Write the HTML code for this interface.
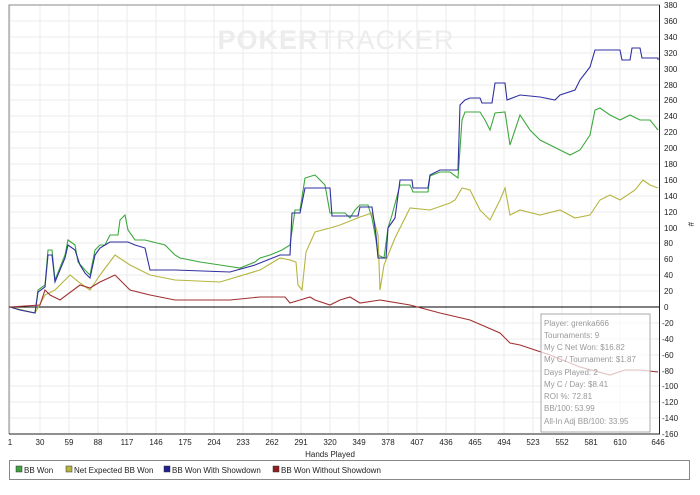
<!DOCTYPE html><html><head><style>body{margin:0;background:#fff;font-family:"Liberation Sans",sans-serif}</style></head><body>
<svg width="700" height="490" xmlns="http://www.w3.org/2000/svg" font-family="Liberation Sans, sans-serif">
<rect width="700" height="490" fill="#fff"/>
<g stroke="#ebebeb" stroke-width="1">
<path d="M10 5V434M40 5V434M69 5V434M98 5V434M127 5V434M156 5V434M185 5V434M214 5V434M243 5V434M272 5V434M301 5V434M330 5V434M359 5V434M388 5V434M417 5V434M446 5V434M475 5V434M504 5V434M533 5V434M562 5V434M591 5V434M620 5V434"/>
<path d="M9 21H660M9 37H660M9 53H660M9 69H660M9 85H660M9 100H660M9 116H660M9 132H660M9 148H660M9 164H660M9 180H660M9 196H660M9 212H660M9 228H660M9 243H660M9 259H660M9 275H660M9 291H660M9 323H660M9 339H660M9 355H660M9 371H660M9 386H660M9 402H660M9 418H660"/>
</g>
<text x="336" y="49" font-size="27" font-weight="bold" fill="#ececec" text-anchor="middle" letter-spacing="1">POKER<tspan font-weight="normal">TRACKER</tspan></text>
<path d="M9 434V5H660" fill="none" stroke="#888" stroke-width="1"/>
<path d="M9 307H660" stroke="#000" stroke-width="1"/>
<path d="M9 434H660M659.5 5V434" stroke="#222" stroke-width="1"/>
<g fill="none" stroke-width="1.1">
<polyline stroke="#3ca83c" points="10,307 20,310 35,313 38,290 45,285 48,250 52,250 55,280 65,255 68,240 75,245 78,262 85,270 90,275 95,250 100,245 105,245 110,235 118,235 120,220 125,215 128,230 135,240 145,240 165,245 175,255 180,258 200,262 220,265 240,268 255,262 260,258 270,255 282,250 290,245 295,210 300,210 305,178 315,175 325,185 330,213 345,213 350,218 355,210 360,205 368,205 372,218 376,240 378,255 384,258 388,228 392,215 400,185 410,185 413,192 428,192 430,176 440,172 450,172 458,178 462,120 465,112 480,112 485,120 490,130 495,113 505,112 510,145 520,115 530,130 540,140 550,145 560,150 570,155 580,150 590,135 595,110 600,108 610,115 620,120 630,115 640,120 650,120 658,130"/>
<polyline stroke="#b5b540" points="10,307 35,313 45,295 55,290 70,275 80,283 90,290 100,275 115,255 130,265 150,275 175,280 220,282 260,270 280,258 290,260 296,262 298,285 302,290 306,252 315,232 330,228 340,225 360,217 372,213 378,235 380,290 384,265 395,238 410,208 430,210 450,203 455,200 462,188 470,190 480,210 490,220 500,200 505,188 510,215 520,210 540,215 560,210 575,218 590,215 600,200 610,195 620,200 635,190 643,180 650,185 658,188"/>
<polyline stroke="#3030a0" points="10,307 20,310 35,313 38,292 45,287 48,255 52,255 55,282 65,258 68,245 75,250 80,265 85,273 90,278 95,255 100,248 110,242 128,242 135,245 145,248 150,270 175,270 230,272 255,265 280,255 290,255 292,213 300,213 305,188 330,188 332,216 358,216 360,207 372,207 376,235 378,258 386,258 388,228 395,218 400,180 412,180 413,188 428,188 430,175 440,170 458,170 460,105 465,100 470,98 480,98 482,103 492,103 495,83 505,83 507,100 520,95 540,97 555,100 560,95 575,90 580,80 590,67 595,50 620,50 622,60 630,60 632,48 640,48 642,58 658,58 658,60"/>
<polyline stroke="#a03030" points="10,307 40,305 45,290 50,295 60,300 80,285 90,288 100,282 115,275 125,285 130,290 150,295 175,300 230,300 260,297 285,297 290,303 300,300 310,297 315,300 330,305 340,300 350,297 360,303 380,300 410,305 440,313 470,320 500,333 510,343 520,345 550,355 580,367 610,375 625,370 640,370 658,372"/>
</g>
<rect x="541" y="314" width="109" height="118" fill="#fff" fill-opacity="0.7" stroke="#aaa"/>
<g font-size="8" fill="#999">
<text x="544" y="326">Player: grenka666</text><text x="544" y="338">Tournaments: 9</text><text x="544" y="350">My C Net Won: $16.82</text><text x="544" y="362">My C / Tournament: $1.87</text><text x="544" y="375">Days Played: 2</text><text x="544" y="387">My C / Day: $8.41</text><text x="544" y="399">ROI %: 72.81</text><text x="544" y="411">BB/100: 53.99</text><text x="544" y="424">All-In Adj BB/100: 33.95</text>
</g>
<g font-size="8" fill="#222" text-anchor="middle">
<text x="10" y="445">1</text><text x="40" y="445">30</text><text x="69" y="445">59</text><text x="98" y="445">88</text><text x="127" y="445">117</text><text x="156" y="445">146</text><text x="185" y="445">175</text><text x="214" y="445">204</text><text x="243" y="445">233</text><text x="272" y="445">262</text><text x="301" y="445">291</text><text x="330" y="445">320</text><text x="359" y="445">349</text><text x="388" y="445">378</text><text x="417" y="445">407</text><text x="446" y="445">436</text><text x="475" y="445">465</text><text x="504" y="445">494</text><text x="533" y="445">523</text><text x="562" y="445">552</text><text x="591" y="445">581</text><text x="620" y="445">610</text><text x="658" y="445">646</text>
<text x="330" y="457">Hands Played</text>
</g>
<g font-size="8" fill="#222">
<text x="664" y="8">380</text><text x="664" y="24">360</text><text x="664" y="40">340</text><text x="664" y="56">320</text><text x="664" y="72">300</text><text x="664" y="88">280</text><text x="664" y="103">260</text><text x="664" y="119">240</text><text x="664" y="135">220</text><text x="664" y="151">200</text><text x="664" y="167">180</text><text x="664" y="183">160</text><text x="664" y="199">140</text><text x="664" y="215">120</text><text x="664" y="231">100</text><text x="664" y="246">80</text><text x="664" y="262">60</text><text x="664" y="278">40</text><text x="664" y="294">20</text><text x="664" y="310">0</text><text x="662" y="326">-20</text><text x="662" y="342">-40</text><text x="662" y="358">-60</text><text x="662" y="374">-80</text><text x="662" y="389">-100</text><text x="662" y="405">-120</text><text x="662" y="421">-140</text><text x="662" y="437">-160</text>
<text x="688" y="222" transform="rotate(90 688 222)">#</text>
</g>
<rect x="9.5" y="460.5" width="680" height="19" fill="#fff" stroke="#888"/>
<g font-size="8" fill="#222">
<rect x="16" y="466" width="6" height="6" fill="#40a040" stroke="#333" stroke-width=".5"/><text x="24" y="473">BB Won</text>
<rect x="66" y="466" width="6" height="6" fill="#b5b540" stroke="#333" stroke-width=".5"/><text x="74" y="473">Net Expected BB Won</text>
<rect x="164" y="466" width="6" height="6" fill="#202090" stroke="#333" stroke-width=".5"/><text x="172" y="473">BB Won With Showdown</text>
<rect x="273" y="466" width="6" height="6" fill="#902020" stroke="#333" stroke-width=".5"/><text x="281" y="473">BB Won Without Showdown</text>
</g>
</svg></body></html>
